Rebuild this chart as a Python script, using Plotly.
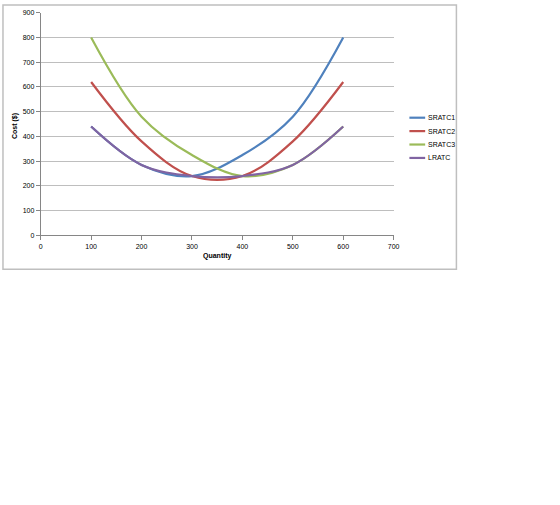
import plotly.graph_objects as go

quantity = [100, 200, 300, 400, 500, 600]
sratc1 = [440, 285, 240, 325, 480, 800]
sratc2 = [620, 380, 240, 240, 380, 620]
sratc3 = [800, 480, 325, 240, 285, 440]
lratc = [440, 285, 240, 240, 285, 440]

series_names = ["SRATC1", "SRATC2", "SRATC3", "LRATC"]
series_values = [sratc1, sratc2, sratc3, lratc]
series_colors = ["#4F81BD", "#C0504D", "#9BBB59", "#8064A2"]

W, H = 560, 505
FONT = "Liberation Sans"


def px_x(p):
    return p / W


def px_y(p):
    return 1 - p / H


fig = go.Figure()
for name, vals, color in zip(series_names, series_values, series_colors):
    fig.add_trace(go.Scatter(
        x=quantity, y=vals, name=name, mode="lines",
        line=dict(color=color, width=2.2, shape="spline", smoothing=1.0),
        showlegend=False,
    ))

shapes = [
    dict(type="rect", xref="paper", yref="paper",
         x0=px_x(1), x1=px_x(461), y0=px_y(269), y1=px_y(1),
         line=dict(color="#BFBFBF", width=1.5), fillcolor="rgba(0,0,0,0)",
         layer="below"),
]
annotations = [
    dict(text="<b>Quantity</b>", xref="paper", yref="paper",
         x=px_x(218.5), y=px_y(256), xanchor="center", yanchor="middle",
         showarrow=False, font=dict(family=FONT, size=7, color="#000000")),
    dict(text="<b>Cost ($)</b>", xref="paper", yref="paper",
         x=px_x(13), y=px_y(124), xanchor="center", yanchor="middle",
         textangle=-90, showarrow=False,
         font=dict(family=FONT, size=7, color="#000000")),
]

# legend (drawn as key lines + labels)
legend_top = 115.3
legend_step = 13.6
for i, (name, color) in enumerate(zip(series_names, series_colors)):
    yy = legend_top + i * legend_step
    shapes.append(dict(type="line", xref="paper", yref="paper",
                       x0=px_x(413.3), x1=px_x(429.3), y0=px_y(yy), y1=px_y(yy),
                       line=dict(color=color, width=2.2)))
    annotations.append(dict(text=name, xref="paper", yref="paper",
                            x=px_x(430), y=px_y(yy), xanchor="left", yanchor="middle",
                            showarrow=False,
                            font=dict(family=FONT, size=7, color="#000000")))

fig.update_layout(
    width=W, height=H,
    margin=dict(l=0, r=0, t=0, b=0),
    paper_bgcolor="white", plot_bgcolor="white",
    font=dict(family=FONT, size=7, color="#000000"),
    showlegend=False,
    xaxis=dict(
        domain=[px_x(39.3), px_x(397.3)],
        range=[0, 700], dtick=100, tick0=0,
        showgrid=False, zeroline=False,
        showline=True, linecolor="#868686", linewidth=1,
        ticks="outside", ticklen=4, tickcolor="#868686",
        tickfont=dict(family=FONT, size=7, color="#000000"),
        fixedrange=True,
    ),
    yaxis=dict(
        domain=[px_y(234.7), px_y(8.8)],
        range=[0, 900], dtick=100, tick0=0,
        showgrid=True, gridcolor="#BEBEBE", gridwidth=1,
        zeroline=False,
        showline=True, linecolor="#868686", linewidth=1,
        ticks="outside", ticklen=4, tickcolor="#868686",
        tickfont=dict(family=FONT, size=7, color="#000000"),
        fixedrange=True,
    ),
    shapes=shapes,
    annotations=annotations,
)

fig.write_html("out.html")
